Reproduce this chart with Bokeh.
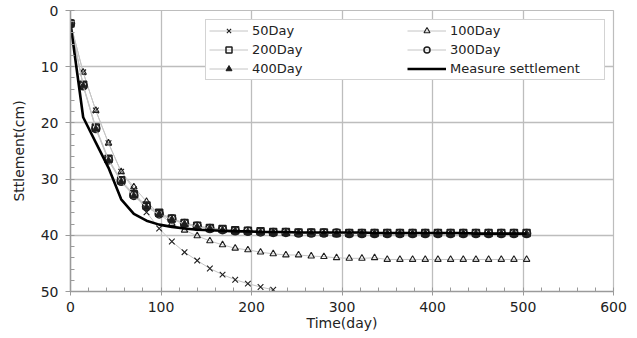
from bokeh.plotting import figure
from bokeh.models import Range1d, SingleIntervalTicker, Legend, LegendItem
from bokeh.embed import file_html
from bokeh.resources import INLINE

# ---- data ----
time = [0, 14, 28, 42, 56, 70, 84, 98, 112, 126, 140, 154, 168, 182, 196, 210, 224,
        238, 252, 266, 280, 294, 308, 322, 336, 350, 364, 378, 392, 406, 420, 434,
        448, 462, 476, 490, 504]

day50 = [2.3, 11.0, 17.8, 23.6, 28.7, 31.8, 35.9, 38.8, 41.1, 43.0, 44.5, 45.9,
         47.0, 47.9, 48.6, 49.2, 49.7]

day100 = [2.3, 11.0, 17.8, 23.6, 28.7, 31.4, 34.0, 36.2, 37.9, 39.1, 40.1, 41.0,
          41.7, 42.3, 42.6, 43.0, 43.3, 43.5, 43.5, 43.7, 43.8, 44.0, 44.1, 44.1,
          44.0, 44.3, 44.3, 44.3, 44.3, 44.3, 44.3, 44.3, 44.3, 44.3, 44.3, 44.3, 44.3]

day200 = [2.3, 13.2, 20.8, 26.4, 30.2, 32.7, 34.7, 36.0, 37.0, 37.8, 38.3, 38.7,
          38.9, 39.1, 39.2, 39.3, 39.4, 39.4, 39.5, 39.5, 39.5, 39.6, 39.6, 39.6,
          39.6, 39.6, 39.6, 39.6, 39.6, 39.6, 39.6, 39.6, 39.6, 39.6, 39.6, 39.6, 39.6]

day300 = [2.3, 13.4, 21.0, 26.6, 30.4, 32.9, 34.9, 36.2, 37.1, 37.9, 38.4, 38.8,
          39.0, 39.2, 39.3, 39.4, 39.5, 39.5, 39.6, 39.6, 39.6, 39.6, 39.7, 39.7,
          39.7, 39.7, 39.7, 39.7, 39.7, 39.7, 39.7, 39.7, 39.7, 39.7, 39.7, 39.7, 39.7]

day400 = [2.3, 13.4, 21.1, 26.7, 30.5, 33.0, 35.0, 36.3, 37.2, 38.0, 38.5, 38.8,
          39.1, 39.2, 39.4, 39.5, 39.5, 39.6, 39.6, 39.6, 39.7, 39.7, 39.7, 39.7,
          39.7, 39.7, 39.7, 39.7, 39.7, 39.7, 39.7, 39.7, 39.7, 39.7, 39.7, 39.7, 39.7]

measured = [2.3, 19.0, 23.5, 28.0, 33.6, 36.2, 37.4, 38.1, 38.5, 38.8, 39.0, 39.1,
            39.2, 39.3, 39.3, 39.4, 39.4, 39.4, 39.5, 39.5, 39.5, 39.5, 39.5, 39.5,
            39.6, 39.6, 39.6, 39.6, 39.6, 39.6, 39.6, 39.6, 39.7, 39.7, 39.7, 39.7, 39.7]

x_ticks_interval = 100
y_ticks_interval = 10

# ---- figure ----
p = figure(width=635, height=336, output_backend="svg", toolbar_location=None,
           x_range=Range1d(0, 600), y_range=Range1d(50, 0),
           min_border_left=70, min_border_right=22, min_border_top=10, min_border_bottom=45,
           background_fill_color="white", border_fill_color="white")
p.outline_line_color = "#bdbdbd"
p.outline_line_width = 1.2

xt = SingleIntervalTicker(interval=x_ticks_interval, num_minor_ticks=5)
yt = SingleIntervalTicker(interval=y_ticks_interval, num_minor_ticks=5)
p.xaxis.ticker = xt
p.yaxis.ticker = yt
p.xgrid.ticker = xt
p.ygrid.ticker = yt
for g in (p.xgrid, p.ygrid):
    g.grid_line_color = "#bdbdbd"
    g.grid_line_width = 1.3

for ax in (p.xaxis, p.yaxis):
    ax.axis_line_color = "#9a9a9a"
    ax.axis_line_width = 1.5
    ax.major_tick_line_color = "#9a9a9a"
    ax.minor_tick_line_color = "#9a9a9a"
    ax.major_tick_in = 0
    ax.minor_tick_in = 4
    ax.minor_tick_out = 0
    ax.major_label_text_font = "DejaVu Sans"
    ax.major_label_text_font_size = "14px"
    ax.major_label_text_color = "#222222"
    ax.axis_label_text_font = "DejaVu Sans"
    ax.axis_label_text_font_size = "14px"
    ax.axis_label_text_font_style = "normal"
    ax.axis_label_text_color = "#222222"

p.xaxis.major_tick_out = 4
p.xaxis.major_label_standoff = 6
p.xaxis.axis_label_standoff = 0
p.xaxis.axis_label = "Time(day)"
p.yaxis.major_tick_out = 5
p.yaxis.major_label_standoff = 7
p.yaxis.axis_label_standoff = 11
p.yaxis.axis_label = "Sttlement(cm)"

gray = "#c4c4c4"
ink = "#1e1e1e"

l50 = p.line(time[:len(day50)], day50, line_color=gray, line_width=1)
s50 = p.scatter(time[:len(day50)], day50, marker="x", size=8, line_color=ink, line_width=1.1)

l100 = p.line(time, day100, line_color=gray, line_width=1)
s100 = p.scatter(time, day100, marker="triangle", size=6.5, line_color=ink, fill_color=None, line_width=1.1)

l200 = p.line(time, day200, line_color=gray, line_width=1)
s200 = p.scatter(time, day200, marker="square", size=7, line_color=ink, fill_color=None, line_width=1.5)

l300 = p.line(time, day300, line_color=gray, line_width=1)
s300 = p.scatter(time, day300, marker="circle", size=8, line_color=ink, fill_color=None, line_width=1.5)

l400 = p.line(time, day400, line_color=gray, line_width=1)
s400 = p.scatter(time, day400, marker="triangle", size=7, line_color=ink, fill_color=ink, line_width=1)

lm = p.line(time, measured, line_color="#000000", line_width=2.6)

legend = Legend(items=[
    LegendItem(label="50Day", renderers=[l50, s50]),
    LegendItem(label="100Day", renderers=[l100, s100]),
    LegendItem(label="200Day", renderers=[l200, s200]),
    LegendItem(label="300Day", renderers=[l300, s300]),
    LegendItem(label="400Day", renderers=[l400, s400]),
    LegendItem(label="Measure settlement", renderers=[lm]),
], location=(135, 211), orientation="horizontal", ncols=2)
legend.border_line_color = "#a8a8a8"
legend.border_line_width = 1
legend.background_fill_color = "white"
legend.background_fill_alpha = 1
legend.padding = 3
legend.spacing = 4
legend.margin = 0
legend.glyph_width = 39
legend.glyph_height = 15
legend.label_height = 15
legend.label_width = 151
legend.label_standoff = 4
legend.label_text_font = "DejaVu Sans"
legend.label_text_font_size = "13px"
legend.label_text_color = "#222222"
p.add_layout(legend, "center")

open("out.html", "w").write(file_html(p, INLINE))
